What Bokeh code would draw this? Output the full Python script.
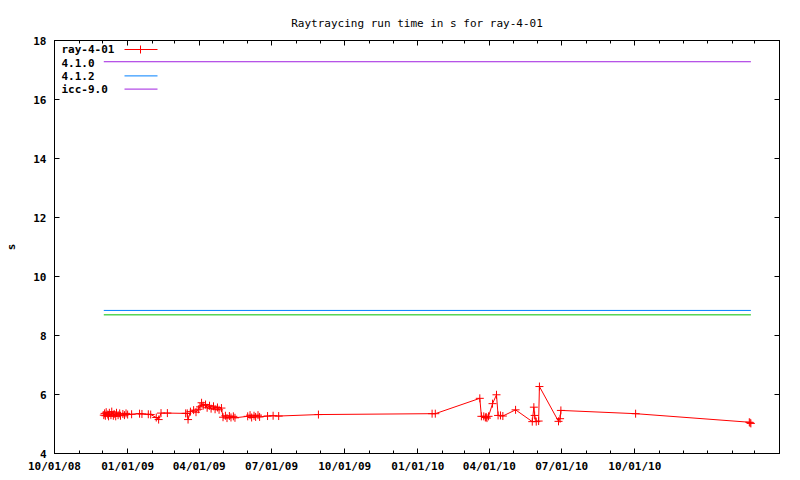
import pandas as pd
from bokeh.plotting import figure
from bokeh.models import (Range1d, FixedTicker, DatetimeTickFormatter, LinearAxis,
                          Label, Arrow, CustomJSTickFormatter)
from bokeh.embed import file_html
from bokeh.resources import INLINE

# ---------------- data ----------------
run_dates = [
    "2008-12-02", "2008-12-03", "2008-12-04", "2008-12-05", "2008-12-07", "2008-12-08",
    "2008-12-09", "2008-12-11", "2008-12-12", "2008-12-14", "2008-12-15", "2008-12-17",
    "2008-12-18", "2008-12-20", "2008-12-22", "2008-12-23", "2008-12-26", "2008-12-28",
    "2008-12-30", "2009-01-01",
    "2009-01-06", "2009-01-16", "2009-01-19", "2009-01-27", "2009-01-30", "2009-02-06",
    "2009-02-09", "2009-02-12", "2009-02-20",
    "2009-03-15", "2009-03-17", "2009-03-18", "2009-03-21", "2009-03-25", "2009-03-28",
    "2009-03-31", "2009-04-02", "2009-04-04", "2009-04-06", "2009-04-09", "2009-04-11",
    "2009-04-14", "2009-04-16", "2009-04-19", "2009-04-21", "2009-04-24", "2009-04-26",
    "2009-04-29",
    "2009-05-01", "2009-05-04", "2009-05-06", "2009-05-09", "2009-05-11", "2009-05-14",
    "2009-05-16",
    "2009-06-01", "2009-06-04", "2009-06-06", "2009-06-09", "2009-06-11", "2009-06-14",
    "2009-06-16", "2009-06-26", "2009-07-03", "2009-07-10", "2009-08-29",
    "2010-01-19", "2010-01-23", "2010-03-20", "2010-03-22", "2010-03-25", "2010-03-27",
    "2010-03-28", "2010-03-29", "2010-03-31", "2010-04-05", "2010-04-10", "2010-04-12",
    "2010-04-15", "2010-04-18", "2010-05-04",
    "2010-05-25", "2010-05-27", "2010-05-28", "2010-05-30", "2010-06-02", "2010-06-03",
    "2010-06-27", "2010-06-29", "2010-06-30", "2010-10-02", "2011-02-22", "2011-02-23",
    "2011-02-24",
]
run_times = [
    5.30, 5.36, 5.28, 5.40, 5.32, 5.26, 5.38, 5.30, 5.42, 5.28, 5.34, 5.26,
    5.38, 5.30, 5.36, 5.28, 5.34, 5.30, 5.36, 5.32,
    5.33, 5.35, 5.34, 5.33, 5.32, 5.22, 5.15, 5.37, 5.37,
    5.36, 5.36, 5.15, 5.42, 5.47, 5.40, 5.50, 5.58, 5.72, 5.62, 5.66, 5.55,
    5.62, 5.52, 5.60, 5.50, 5.56, 5.48, 5.54,
    5.23, 5.28, 5.20, 5.27, 5.22, 5.26, 5.21,
    5.26, 5.30, 5.22, 5.28, 5.24, 5.30, 5.24, 5.27, 5.28, 5.27, 5.32,
    5.35, 5.35, 5.87, 5.26, 5.26, 5.22, 5.24, 5.20, 5.26, 5.69, 5.99, 5.29,
    5.29, 5.27, 5.48,
    5.08, 5.57, 5.29, 5.08, 5.10, 6.27, 5.09, 5.18, 5.46, 5.35, 5.06, 5.04,
    5.02,
]
series_name = "ray-4-01"

ref_names = ["4.1.0", "4.1.2", "icc-9.0"]
ref_values = [8.70, 8.85, 17.28]
ref_colors = ["#00c000", "#0080ff", "#a020e0"]

x_start, x_end = "2008-10-01", "2011-04-01"
x_major = ["2008-10-01", "2009-01-01", "2009-04-01", "2009-07-01", "2009-10-01",
           "2010-01-01", "2010-04-01", "2010-07-01", "2010-10-01"]
x_minor = [d.strftime("%Y-%m-%d") for d in pd.date_range(x_start, x_end, freq="MS")]
y_ticks = [4, 6, 8, 10, 12, 14, 16, 18]

title = "Raytraycing run time in s for ray-4-01"
y_label = "s"


def ms(d):
    return pd.Timestamp(d).value // 10**6


FONT = "DejaVu Sans Mono"
FS = "11px"
W, H = 800, 480
BL, BR, BT, BB = 54, 21, 40, 27

dates = pd.to_datetime(run_dates)

p = figure(width=W, height=H, output_backend="svg", toolbar_location=None,
           x_axis_type="datetime",
           x_range=Range1d(ms(x_start), ms(x_end)), y_range=Range1d(4, 18),
           min_border_left=BL, min_border_right=BR, min_border_top=BT,
           min_border_bottom=BB, title=title)

p.title.text_font = FONT
p.title.text_font_size = FS
p.title.text_font_style = "normal"
p.title.text_color = "black"
p.title.align = "center"
p.title.standoff = 21

p.background_fill_color = "white"
p.border_fill_color = "white"
p.outline_line_color = "black"
p.outline_line_width = 1
p.xgrid.visible = False
p.ygrid.visible = False

xt = FixedTicker(ticks=[ms(d) for d in x_major], minor_ticks=[ms(d) for d in x_minor])
yt = FixedTicker(ticks=y_ticks)

fmt = "%m/%d/%y"
p.xaxis.ticker = xt
p.xaxis.formatter = DatetimeTickFormatter(
    milliseconds=fmt, seconds=fmt, minsec=fmt, minutes=fmt, hourmin=fmt, hours=fmt,
    days=fmt, months=fmt, years=fmt)
p.yaxis.ticker = yt
p.yaxis.axis_label = y_label

for ax in (p.xaxis[0], p.yaxis[0]):
    ax.major_label_text_font = FONT
    ax.major_label_text_font_size = FS
    ax.major_label_text_font_style = "bold"
    ax.major_label_text_color = "black"
    ax.axis_line_color = "black"
    ax.major_tick_line_color = "black"
    ax.minor_tick_line_color = "black"
    ax.major_tick_in = 5
    ax.major_tick_out = 0
    ax.minor_tick_in = 3
    ax.minor_tick_out = 0
p.xaxis.major_label_standoff = 6
p.yaxis.major_label_standoff = 8
p.yaxis.minor_tick_line_color = None
p.yaxis.axis_label_text_font = FONT
p.yaxis.axis_label_text_font_size = FS
p.yaxis.axis_label_text_font_style = "bold"
p.yaxis.axis_label_text_color = "black"
p.yaxis.axis_label_standoff = 12

blank = CustomJSTickFormatter(code="return ''")
top_ax = LinearAxis(ticker=xt, formatter=blank, major_label_text_font_size="0px",
                    major_tick_in=5, major_tick_out=0, minor_tick_in=3, minor_tick_out=0,
                    major_label_standoff=0, axis_line_color="black")
right_ax = LinearAxis(ticker=yt, formatter=blank, major_label_text_font_size="0px",
                      major_tick_in=5, major_tick_out=0, minor_tick_line_color=None,
                      major_label_standoff=0, axis_line_color="black")
p.add_layout(top_ax, "above")
p.add_layout(right_ax, "right")

# reference horizontal lines spanning the measured period
for name, v, c in zip(ref_names, ref_values, ref_colors):
    p.line([dates[0], dates[-1]], [v, v], line_color=c, line_width=1)

p.line(dates, run_times, line_color="#ff0000", line_width=1)
p.scatter(dates, run_times, marker="cross", size=8, line_color="#ff0000", line_width=1)

# legend drawn gnuplot-style: text on the left, sample on the right
leg_names = [series_name] + ref_names
leg_colors = ["#ff0000"] + ref_colors
frame_h = H - BT - BB
row0 = frame_h - 9
for i, (n, c) in enumerate(zip(leg_names, leg_colors)):
    yy = row0 - 13.2 * i
    p.add_layout(Label(x=7, y=yy, x_units="screen", y_units="screen", text=n,
                       text_font=FONT, text_font_size=FS, text_font_style="bold",
                       text_baseline="middle", text_align="left", text_color="black"))
    if n == "4.1.0":
        continue  # sample is hidden under the icc-9.0 line in the original
    p.add_layout(Arrow(end=None, x_start=70, y_start=yy, x_end=103, y_end=yy,
                       start_units="screen", end_units="screen",
                       line_color=c, line_width=1))
    if i == 0:
        p.add_layout(Arrow(end=None, x_start=86, y_start=yy - 4, x_end=86, y_end=yy + 4,
                           start_units="screen", end_units="screen",
                           line_color=c, line_width=1))

open("out.html", "w").write(file_html(p, INLINE))
